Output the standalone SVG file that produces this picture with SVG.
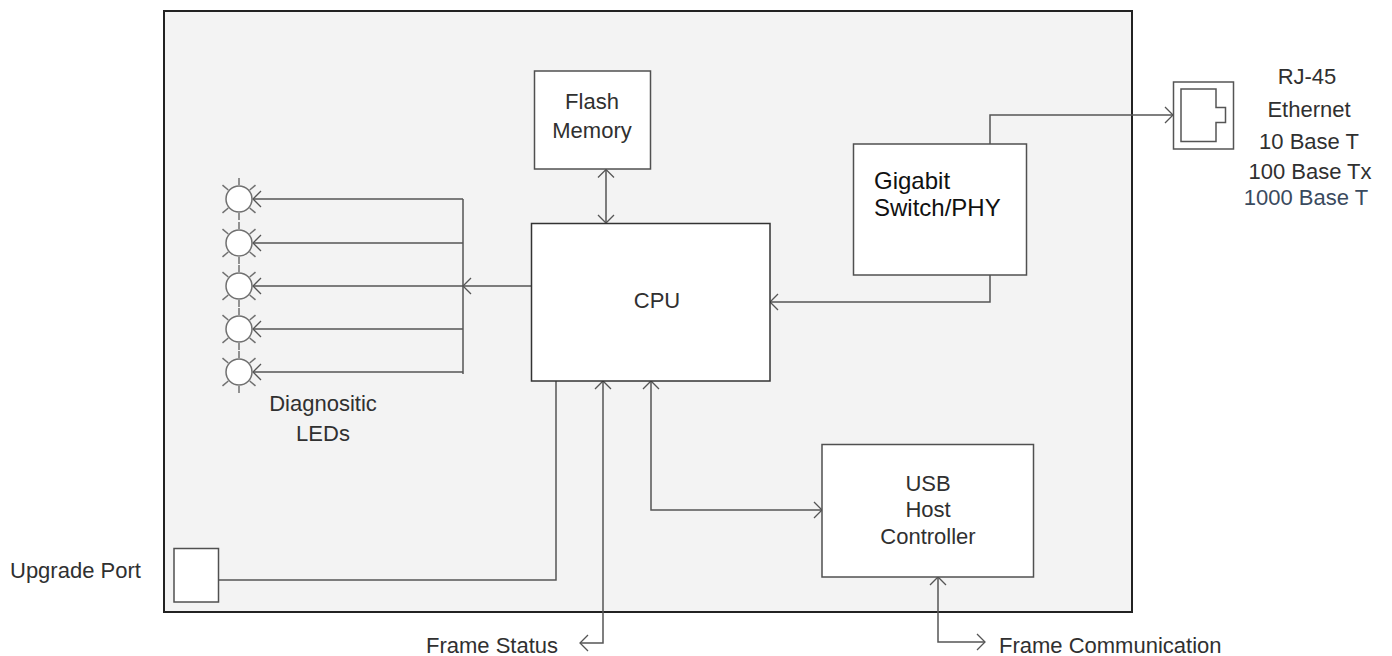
<svg xmlns="http://www.w3.org/2000/svg" width="1392" height="656" viewBox="0 0 1392 656">
<style>
  .lbl{font-family:"Liberation Sans",Arial,sans-serif;font-size:22px;fill:#303030}
  .mid{text-anchor:middle}
  .box{fill:#ffffff;stroke:#505050;stroke-width:1.5}
  .con{fill:none;stroke:#555555;stroke-width:1.5}
  .led{fill:#ffffff;stroke:#707070;stroke-width:1.5}
  .ray{stroke:#707070;stroke-width:1.5}
</style>
<defs>
  <marker id="arr" viewBox="0 0 10 18" refX="9" refY="9" markerWidth="10" markerHeight="18" markerUnits="userSpaceOnUse" orient="auto-start-reverse">
    <path d="M1,1 L9,9 L1,17" fill="none" stroke="#555555" stroke-width="1.3"/>
  </marker>
  <g id="ledShape">
    <circle r="13" class="led"/>
    <line x1="0" y1="-14" x2="0" y2="-21" class="ray"/>
    <line x1="0" y1="14" x2="0" y2="21" class="ray"/>
    <line x1="-10.7" y1="-9" x2="-16.5" y2="-13.8" class="ray"/>
    <line x1="10.7" y1="-9" x2="16.5" y2="-13.8" class="ray"/>
    <line x1="-10.7" y1="9" x2="-16.5" y2="13.8" class="ray"/>
    <line x1="10.7" y1="9" x2="16.5" y2="13.8" class="ray"/>
  </g>
</defs>

<g id="board">
  <rect x="164" y="11" width="968" height="601" fill="#f3f3f3" stroke="#222222" stroke-width="2"/>
</g>

<g id="connectors">
  <line class="con" x1="606" y1="169.5" x2="606" y2="223" marker-start="url(#arr)" marker-end="url(#arr)"/>
  <line class="con" x1="531" y1="286" x2="463" y2="286" marker-end="url(#arr)"/>
  <line class="con" x1="463" y1="199" x2="463" y2="374"/>
  <line class="con" x1="463" y1="199" x2="253" y2="199" marker-end="url(#arr)"/>
  <line class="con" x1="463" y1="243" x2="253" y2="243" marker-end="url(#arr)"/>
  <line class="con" x1="463" y1="286" x2="253" y2="286" marker-end="url(#arr)"/>
  <line class="con" x1="463" y1="329" x2="253" y2="329" marker-end="url(#arr)"/>
  <line class="con" x1="463" y1="372" x2="253" y2="372" marker-end="url(#arr)"/>
  <polyline class="con" points="990,144 990,115 1173,115" marker-end="url(#arr)"/>
  <polyline class="con" points="990,275 990,302 770,302" marker-end="url(#arr)"/>
  <polyline class="con" points="218,580 556,580 556,381"/>
  <polyline class="con" points="580,643 603,643 603,381" marker-start="url(#arr)" marker-end="url(#arr)"/>
  <polyline class="con" points="651,381 651,510 822,510" marker-start="url(#arr)" marker-end="url(#arr)"/>
  <polyline class="con" points="938,577 938,642 985,642" marker-start="url(#arr)" marker-end="url(#arr)"/>
</g>

<g id="flash">
  <rect class="box" x="534.5" y="71" width="116" height="98"/>
  <text class="lbl mid" x="592" y="109">Flash</text>
  <text class="lbl mid" x="592" y="138">Memory</text>
</g>

<g id="cpu">
  <rect x="531.5" y="223.5" width="238.5" height="157.5" fill="#ffffff" stroke="#333333" stroke-width="1.5"/>
  <text class="lbl mid" x="657" y="308">CPU</text>
</g>

<g id="gigabit">
  <rect class="box" x="853.5" y="144" width="173" height="131"/>
  <text x="874" y="189" style="font-family:'Liberation Sans',Arial,sans-serif;font-size:24px;fill:#111111">Gigabit</text>
  <text x="874" y="216" style="font-family:'Liberation Sans',Arial,sans-serif;font-size:24px;fill:#111111">Switch/PHY</text>
</g>

<g id="usb">
  <rect class="box" x="822" y="444.5" width="211.5" height="132.5"/>
  <text class="lbl mid" x="928" y="491">USB</text>
  <text class="lbl mid" x="928" y="517">Host</text>
  <text class="lbl mid" x="928" y="544">Controller</text>
</g>

<g id="upgrade-port">
  <rect class="box" x="174" y="548.5" width="44.5" height="53.5"/>
  <text class="lbl" x="10" y="578">Upgrade Port</text>
</g>

<g id="rj45">
  <rect x="1173.5" y="82" width="60" height="67" fill="#ffffff" stroke="#555555" stroke-width="1.5"/>
  <path d="M1181,89 H1216 V107.5 H1225.5 V122.5 H1216 V141.5 H1181 Z" fill="#ffffff" stroke="#555555" stroke-width="1.5"/>
  <text class="lbl mid" x="1307" y="84">RJ-45</text>
  <text class="lbl mid" x="1309" y="117">Ethernet</text>
  <text class="lbl mid" x="1309" y="149">10 Base T</text>
  <text class="lbl mid" x="1310" y="179">100 Base Tx</text>
  <text class="lbl mid" x="1306" y="205" style="fill:#3a4a5e">1000 Base T</text>
</g>

<g id="leds">
  <use href="#ledShape" x="239" y="199"/>
  <use href="#ledShape" x="239" y="243"/>
  <use href="#ledShape" x="239" y="286"/>
  <use href="#ledShape" x="239" y="329"/>
  <use href="#ledShape" x="239" y="372"/>
  <text class="lbl mid" x="323" y="411">Diagnositic</text>
  <text class="lbl mid" x="323" y="441">LEDs</text>
</g>

<g id="frame-labels">
  <text class="lbl" x="558" y="653" text-anchor="end">Frame Status</text>
  <text class="lbl" x="999" y="653">Frame Communication</text>
</g>
</svg>
